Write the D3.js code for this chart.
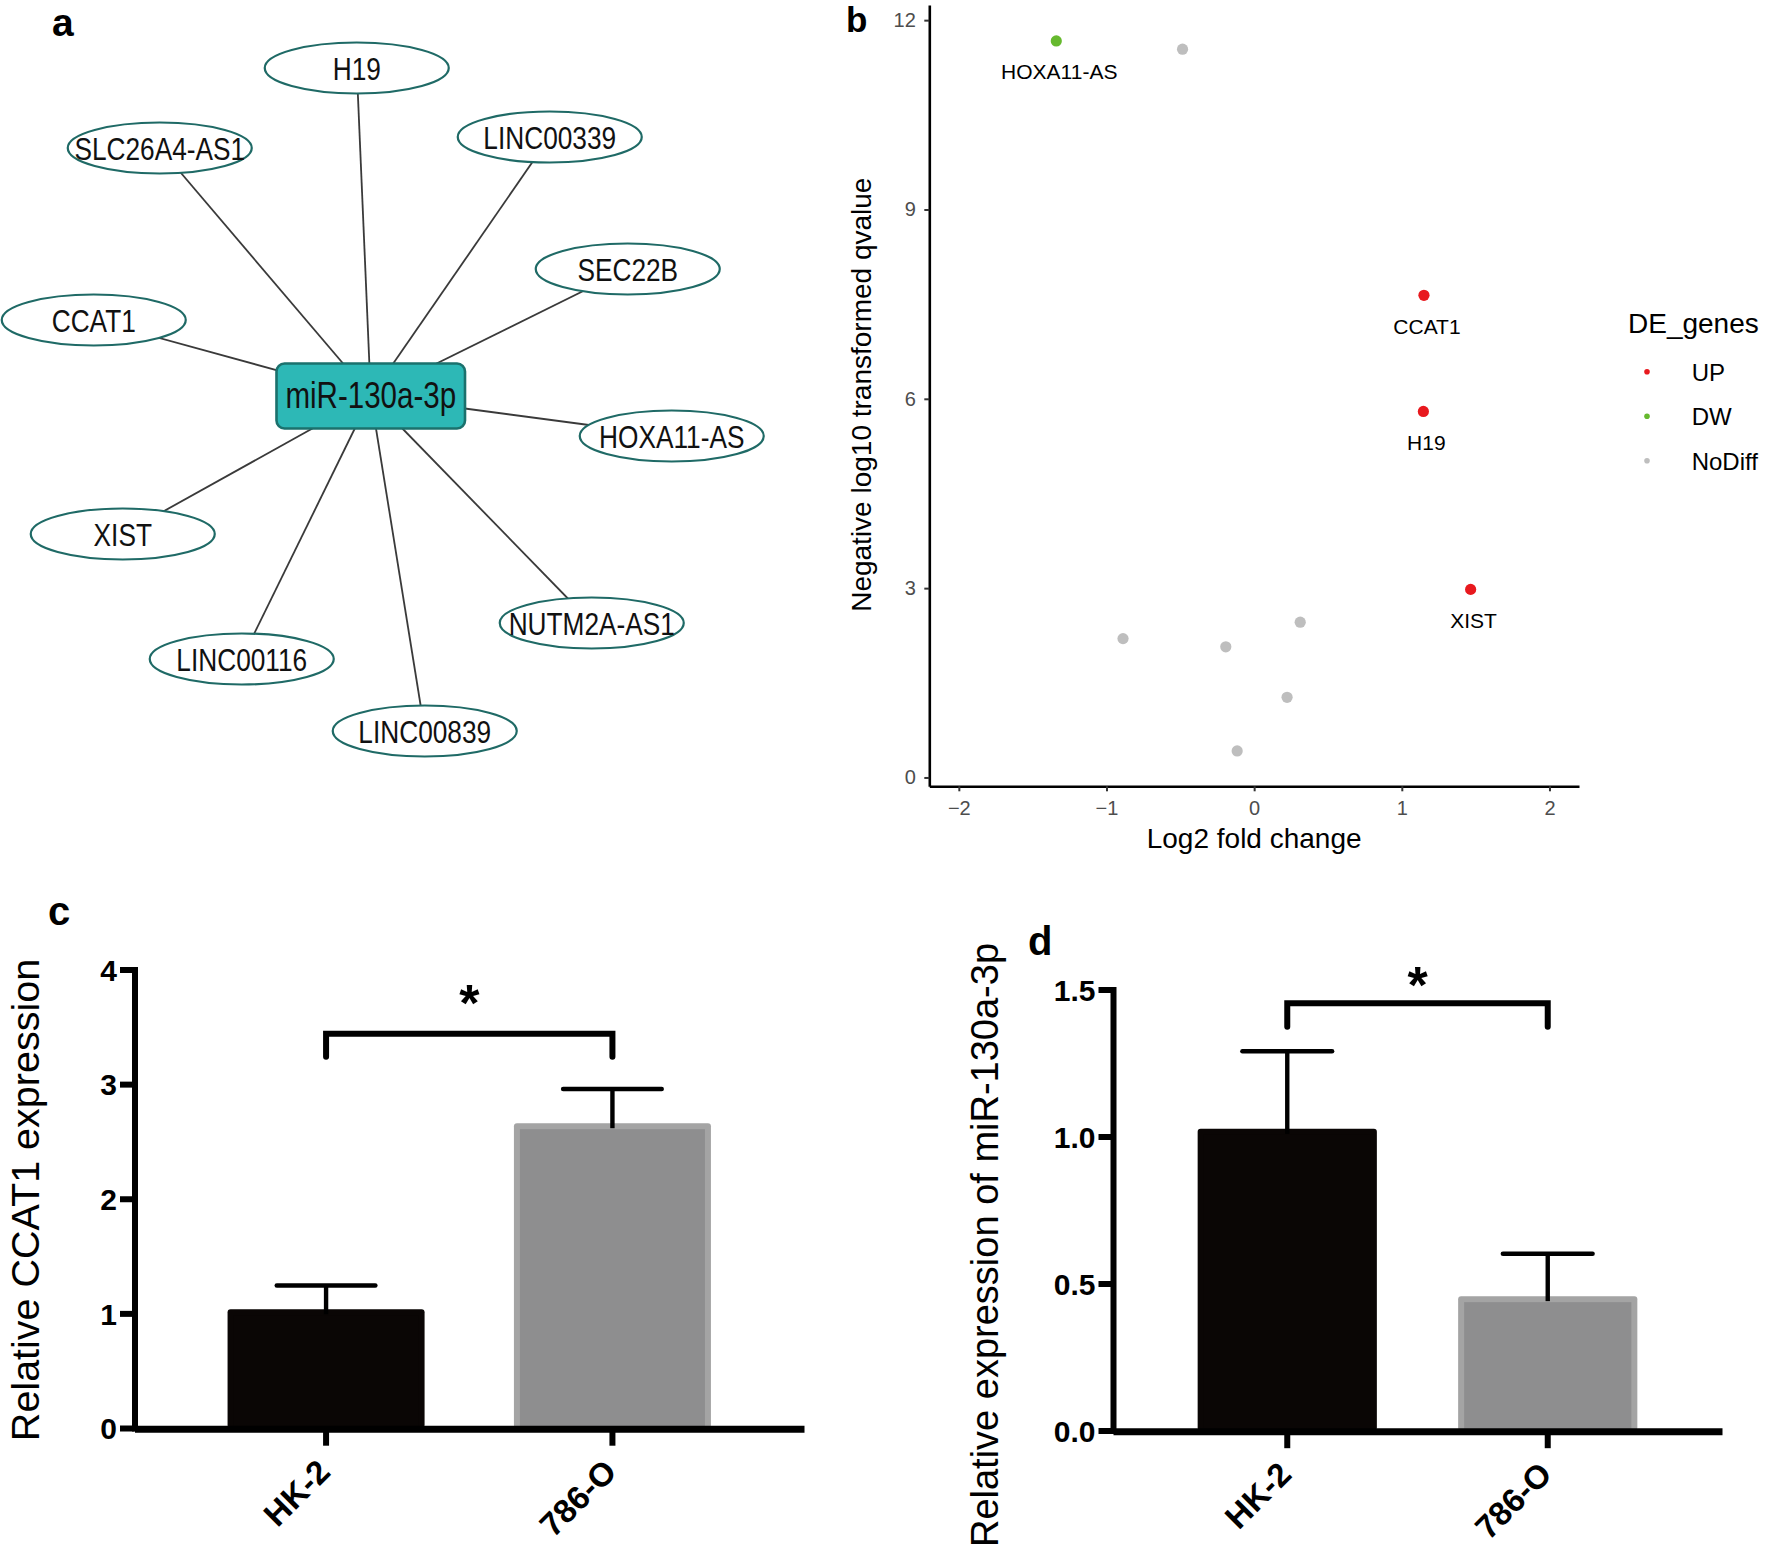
<!DOCTYPE html>
<html><head><meta charset="utf-8">
<script src="https://cdn.jsdelivr.net/npm/d3@7"></script>
<style>
html,body{margin:0;padding:0;background:#fff;}
svg{display:block;}
</style>
</head><body>
<svg id="fig" width="1771" height="1549"></svg>
<script>
// ================= DATA =================
// Panel a: interaction network (layout coordinates in arbitrary layout units)
const hubName = "miR-130a-3p";
const lncNames   = ["H19","SLC26A4-AS1","LINC00339","SEC22B","CCAT1","HOXA11-AS","XIST","NUTM2A-AS1","LINC00116","LINC00839"];
const lncLayoutX = [-0.14,-2.11, 1.79, 2.57,-2.77, 3.01,-2.48, 2.21,-1.29, 0.54];
const lncLayoutY = [-3.28,-2.48,-2.59,-1.27,-0.76, 0.40, 1.38, 2.27, 2.63, 3.35];

// Panel b: volcano plot
const volcanoLabel     = ["HOXA11-AS","","CCAT1","H19","XIST","","","","",""];
const volcanoLog2FC    = [-1.34,-0.485,1.15,1.146,1.466,-0.888,-0.192,0.312,0.223,-0.115];
const volcanoNegLog10Q = [11.67,11.54,7.64,5.80,2.98,2.20,2.07,2.46,1.27,0.42];
const volcanoGroup     = ["DW","NoDiff","UP","UP","UP","NoDiff","NoDiff","NoDiff","NoDiff","NoDiff"];
const deGroups         = ["UP","DW","NoDiff"];
const volcanoXTicks    = [-2,-1,0,1,2];
const volcanoYTicks    = [0,3,6,9,12];

// Panel c / d: qPCR bars (mean, SD)
const cellLines = ["HK-2","786-O"];
const ccat1Mean = [1.036, 2.659];
const ccat1SD   = [0.207, 0.299];
const ccat1Ticks = [0,1,2,3,4];
const mirMean = [1.026, 0.457];
const mirSD   = [0.264, 0.144];
const mirTicks = [0,0.5,1.0,1.5];

// ================= STYLE / LAYOUT =================
const FONT = "'Liberation Sans', Arial, Helvetica, sans-serif";
const NARROW = "'Liberation Sans Narrow', 'Arial Narrow', 'Liberation Sans', sans-serif";
const svg = d3.select("#fig");
svg.append("rect").attr("width",1771).attr("height",1549).attr("fill","#fff");

// detect whether a narrow face is installed; if not, condense the regular face
const probe = svg.append("g").attr("opacity",0);
const pN = probe.append("text").attr("font-family",NARROW).attr("font-size",40).text("LINC00339 miR-130a-3p");
const pR = probe.append("text").attr("font-family",FONT).attr("font-size",40).text("LINC00339 miR-130a-3p");
const needCondense = pN.node().getComputedTextLength() > 0.92*pR.node().getComputedTextLength();
probe.remove();
function condense(sel){
  if(!needCondense) return;
  sel.each(function(){
    const w = this.getComputedTextLength();
    d3.select(this).attr("textLength", w*0.82).attr("lengthAdjust","spacingAndGlyphs");
  });
}

function panelLetter(t, x, y, size){
  svg.append("text").attr("x",x).attr("y",y).text(t)
    .attr("font-family",FONT).attr("font-weight","bold").attr("font-size",size).attr("fill","#000");
}

// ================= PANEL A =================
(function(){
  const g = svg.append("g");
  const hub = {x:370.75, y:396};
  const sx = d3.scaleLinear().domain([-1,1]).range([hub.x-100, hub.x+100]);
  const sy = d3.scaleLinear().domain([-1,1]).range([hub.y-100, hub.y+100]);
  const nodes = lncNames.map((n,i)=>({name:n, x:sx(lncLayoutX[i]), y:sy(lncLayoutY[i])}));
  g.selectAll("line.edge").data(nodes).join("line").attr("class","edge")
    .attr("x1",sx(0)).attr("y1",sy(0)).attr("x2",d=>d.x).attr("y2",d=>d.y)
    .attr("stroke","#3a3a3a").attr("stroke-width",1.8);
  const ng = g.selectAll("g.node").data(nodes).join("g").attr("class","node")
    .attr("transform",d=>`translate(${d.x},${d.y})`);
  ng.append("ellipse").attr("rx",92).attr("ry",25.5)
    .attr("fill","#fff").attr("stroke","#1f6a66").attr("stroke-width",2.2);
  const lt = ng.append("text").text(d=>d.name).attr("text-anchor","middle").attr("dy","0.37em")
    .attr("font-family",NARROW).attr("font-size",32).attr("fill","#111");
  condense(lt);
  const hw = 188.5, hh = 65;
  g.append("rect").attr("x",sx(0)-hw/2).attr("y",sy(0)-hh/2).attr("width",hw).attr("height",hh)
    .attr("rx",8).attr("fill","#2db8b6").attr("stroke","#1b716d").attr("stroke-width",2.6);
  const ht = g.append("text").attr("x",sx(0)).attr("y",sy(0)).attr("dy","0.34em").text(hubName)
    .attr("text-anchor","middle").attr("font-family",NARROW).attr("font-size",36).attr("fill","#111");
  condense(ht);
  panelLetter("a", 52, 36, 39);
})();

// ================= PANEL B =================
(function(){
  const g = svg.append("g");
  const x = d3.scaleLinear().domain([-2.2,2.2]).range([929.3,1579]);
  const y = d3.scaleLinear().domain([-0.14,12.24]).range([786.3,5]);
  const color = d3.scaleOrdinal().domain(deGroups).range(["#e8191e","#66b92e","#bebebe"]);
  const xa = g.append("g").attr("transform","translate(0,786.3)")
    .call(d3.axisBottom(x).tickValues(volcanoXTicks).tickFormat(d3.format("d")).tickSize(5).tickSizeOuter(0).tickPadding(10));
  const ya = g.append("g").attr("transform","translate(929.3,0)")
    .call(d3.axisLeft(y).tickValues(volcanoYTicks).tickFormat(d3.format("d")).tickSize(5).tickSizeOuter(0).tickPadding(8.5));
  [xa,ya].forEach(a=>{
    a.attr("font-family",FONT).attr("font-size",20);
    a.select(".domain").attr("stroke","#000").attr("stroke-width",2.6);
    a.selectAll(".tick line").attr("stroke","#333").attr("stroke-width",2);
    a.selectAll(".tick text").attr("fill","#4d4d4d");
  });
  const idx = d3.range(volcanoLog2FC.length);
  g.selectAll("circle.pt").data(idx).join("circle").attr("class","pt")
    .attr("cx",i=>x(volcanoLog2FC[i])).attr("cy",i=>y(volcanoNegLog10Q[i])).attr("r",5.6)
    .attr("fill",i=>color(volcanoGroup[i]));
  g.selectAll("text.lbl").data(idx.filter(i=>volcanoLabel[i])).join("text").attr("class","lbl")
    .attr("x",i=>x(volcanoLog2FC[i])+3).attr("y",i=>y(volcanoNegLog10Q[i])+38.5)
    .attr("text-anchor","middle").attr("font-family",FONT).attr("font-size",21).attr("fill","#000")
    .text(i=>volcanoLabel[i]);
  g.append("text").attr("x",x(0)).attr("y",848.3).attr("text-anchor","middle")
    .attr("font-family",FONT).attr("font-size",28).text("Log2 fold change");
  g.append("text").attr("transform","translate(871,394.7) rotate(-90)").attr("text-anchor","middle")
    .attr("font-family",FONT).attr("font-size",28).text("Negative log10 transformed qvalue");
  // legend
  const lg = g.append("g");
  lg.append("text").attr("x",1628).attr("y",333).attr("font-family",FONT).attr("font-size",28).text("DE_genes");
  const ly = d3.scalePoint().domain(deGroups).range([371.7,460.7]);
  lg.selectAll("circle").data(deGroups).join("circle").attr("cx",1647).attr("cy",d=>ly(d)).attr("r",2.8).attr("fill",d=>color(d));
  lg.selectAll("text.li").data(deGroups).join("text").attr("class","li").attr("x",1691.7).attr("y",d=>ly(d)+9)
    .attr("font-family",FONT).attr("font-size",24).text(d=>d);
  panelLetter("b", 846, 32, 35);
})();

// ================= PANEL C / D =================
function barPanel(cfg){
  const g = svg.append("g");
  const x = d3.scaleBand().domain(cellLines).range([cfg.x0, cfg.x1]).paddingInner(0.312).paddingOuter(0.325);
  const y = d3.scaleLinear().domain([0, d3.max(cfg.ticks)]).range([cfg.yBase, cfg.yTop]);
  const bw = x.bandwidth();
  const fills = ["#0a0605","#8e8e8f"], edges = ["#0a0605","#a4a4a4"];
  cellLines.forEach((c,i)=>{
    const v = cfg.mean[i];
    g.append("rect").attr("x",x(c)).attr("y",y(v)).attr("width",bw).attr("height",y(0)-y(v))
      .attr("rx",3).attr("fill",edges[i]);
    g.append("rect").attr("x",x(c)+6).attr("y",y(v)+6).attr("width",bw-12).attr("height",y(0)-y(v)-6)
      .attr("fill",fills[i]);
  });
  // error bars (upper only)
  cellLines.forEach((c,i)=>{
    const cx = x(c)+bw/2, top = y(cfg.mean[i]+cfg.sd[i]);
    g.append("line").attr("x1",cx).attr("x2",cx).attr("y1",top).attr("y2",y(cfg.mean[i])+5)
      .attr("stroke","#000").attr("stroke-width",4.4);
    g.append("line").attr("x1",cx-bw*0.25).attr("x2",cx+bw*0.25).attr("y1",top).attr("y2",top)
      .attr("stroke","#000").attr("stroke-width",4.6).attr("stroke-linecap","round");
  });
  // significance bracket
  const c1 = x(cellLines[0])+bw/2, c2 = x(cellLines[1])+bw/2, by = y(cfg.sigLevel);
  g.append("path").attr("d",`M${c1},${by+cfg.leg}V${by}H${c2}V${by+cfg.leg}`)
    .attr("fill","none").attr("stroke","#000").attr("stroke-width",6)
    .attr("stroke-linecap","round").attr("stroke-linejoin","miter");
  g.append("text").attr("x",(c1+c2)/2).attr("y",by+cfg.starDy).attr("text-anchor","middle")
    .attr("font-family",FONT).attr("font-weight","bold").attr("font-size",52).text("*");
  // axes
  const ya = g.append("g").attr("transform",`translate(${cfg.x0},0)`)
    .call(d3.axisLeft(y).tickValues(cfg.ticks).tickFormat(cfg.fmt).tickSize(14.5).tickSizeOuter(0).tickPadding(3));
  const xa = g.append("g").attr("transform",`translate(0,${cfg.yBase+0.7})`)
    .call(d3.axisBottom(x).tickSize(17).tickSizeOuter(0));
  [ya,xa].forEach(a=>{
    a.attr("font-family",FONT).attr("font-weight","bold");
    a.selectAll(".tick line").attr("stroke","#000").attr("stroke-width",6);
    a.selectAll(".tick text").attr("fill","#000");
  });
  ya.attr("font-size",30);
  ya.select(".domain").attr("stroke","#000").attr("stroke-width",6).attr("stroke-linecap","square");
  ya.selectAll(".tick text").attr("dy","0.36em");
  xa.attr("font-size",33);
  xa.select(".domain").attr("stroke","#000").attr("stroke-width",7);
  xa.selectAll(".tick text").attr("y",null).attr("dy",null).attr("text-anchor","end")
    .attr("transform","translate(6,45) rotate(-45)");
  g.append("text").attr("transform",`translate(${cfg.titleX},${cfg.titleY}) rotate(-90)`).attr("text-anchor","middle")
    .attr("font-family",FONT).attr("font-size",cfg.titleSize).text(cfg.title);
}

barPanel({x0:134.5, x1:804, yBase:1428, yTop:969.5, ticks:ccat1Ticks, fmt:d3.format("d"),
  mean:ccat1Mean, sd:ccat1SD, sigLevel:3.44, leg:23, starDy:-13,
  title:"Relative CCAT1 expression", titleX:39, titleY:1200, titleSize:39.5});
barPanel({x0:1113, x1:1722, yBase:1430.5, yTop:989.5, ticks:mirTicks, fmt:d3.format(".1f"),
  mean:mirMean, sd:mirSD, sigLevel:1.453, leg:23.4, starDy:0,
  title:"Relative expression of miR-130a-3p", titleX:998, titleY:1245, titleSize:38});
panelLetter("c", 48, 925, 40);
panelLetter("d", 1028, 955, 40);
</script>
</body></html>
